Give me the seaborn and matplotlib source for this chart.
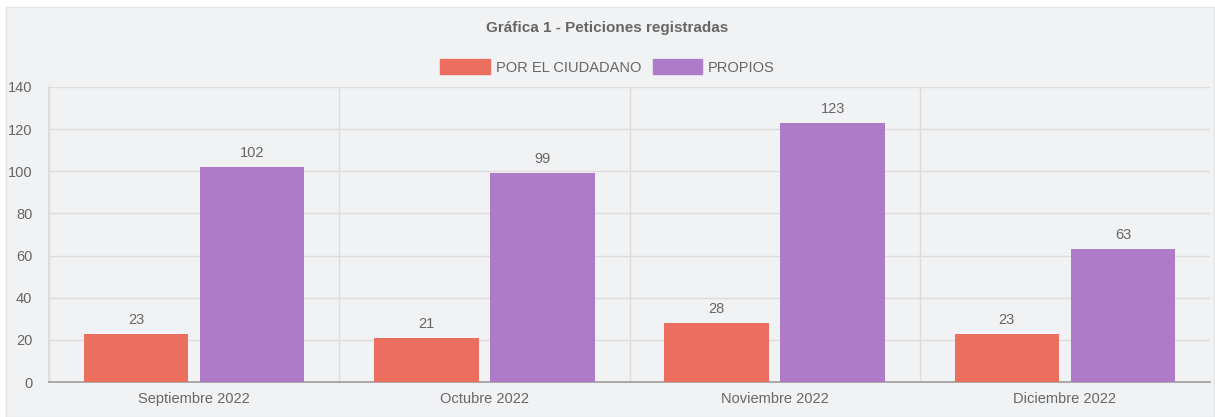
"""
Gráfica 1 - Peticiones registradas (barras agrupadas por mes)
"""

import numpy as np
import pandas as pd
import matplotlib
matplotlib.use('Agg')
import matplotlib.pyplot as plt
from matplotlib.patches import Rectangle, Patch
import seaborn as sns

# ============================================================================
# DATOS
# ============================================================================
meses = ['Septiembre 2022', 'Octubre 2022', 'Noviembre 2022', 'Diciembre 2022']
series = ['POR EL CIUDADANO', 'PROPIOS']
por_el_ciudadano = [23, 21, 28, 23]
propios = [102, 99, 123, 63]
y_ticks = [0, 20, 40, 60, 80, 100, 120, 140]

colores = {'POR EL CIUDADANO': '#ec6e5f', 'PROPIOS': '#ad7bc7'}
texto = '#666666'

df = pd.DataFrame({
    'mes': meses * 2,
    'serie': [series[0]] * len(meses) + [series[1]] * len(meses),
    'valor': por_el_ciudadano + propios,
})

# ============================================================================
# FIGURA
# ============================================================================
sns.set_theme(style='white')
plt.rcParams['font.family'] = ['Liberation Sans', 'DejaVu Sans']

W, H = 1215, 417
fig = plt.figure(figsize=(W / 100, H / 100), dpi=100)
fig.patch.set_facecolor('white')

# panel gris de fondo (detrás de los ejes)
fig.patches.append(Rectangle((6 / W, 0), (1214 - 6) / W, (417 - 7) / H,
                             transform=fig.transFigure, facecolor='#f1f2f4',
                             edgecolor='#e3e4e6', linewidth=1, zorder=-10))

ax = fig.add_axes([49 / W, (H - 382) / H, (1210 - 49) / W, (382 - 87) / H])
ax.set_facecolor('none')

sns.barplot(data=df, x='mes', y='valor', hue='serie', palette=colores,
            width=0.8, gap=0.1, saturation=1, legend=False, ax=ax, zorder=3,
            linewidth=0)

for cont in ax.containers:
    ax.bar_label(cont, padding=5, color=texto, fontsize=10.5)

ax.set_ylim(0, 140)
ax.set_xlim(-0.5, len(meses) - 0.5)
ax.set_yticks(y_ticks)
ax.set_xlabel('')
ax.set_ylabel('')

# rejilla: horizontales en cada tick, verticales entre categorías
ax.set_xticks(np.arange(-0.5, len(meses) - 0.5, 1), minor=True)
ax.grid(axis='y', color='#dcdcdc', linewidth=1, zorder=0)
ax.grid(axis='x', which='minor', color='#dcdcdc', linewidth=1, zorder=0)
ax.tick_params(axis='x', which='major', length=0, pad=7, labelsize=10.5, labelcolor=texto)
ax.tick_params(axis='x', which='minor', length=13, color='#dcdcdc', width=1)
ax.tick_params(axis='y', length=10, color='#dcdcdc', width=1, pad=2,
               labelsize=10.5, labelcolor=texto)

for lado in ['top', 'right']:
    ax.spines[lado].set_visible(False)
ax.spines['left'].set_color('#dcdcdc')
ax.spines['bottom'].set_color('#a0a0a0')

# título y leyenda
fig.text(0.5, (H - 28) / H, 'Gráfica 1 - Peticiones registradas', ha='center', va='center',
         fontsize=11, fontweight='bold', color=texto)

handles = [Patch(facecolor=colores[s], edgecolor=colores[s]) for s in series]
fig.legend(handles, series, loc='center', bbox_to_anchor=(0.5, (H - 67) / H), ncol=2,
           frameon=False, handlelength=3.4, handleheight=1.2, handletextpad=0.4,
           columnspacing=0.8, fontsize=10.5, labelcolor=texto)

plt.savefig('out.png', dpi=100)
